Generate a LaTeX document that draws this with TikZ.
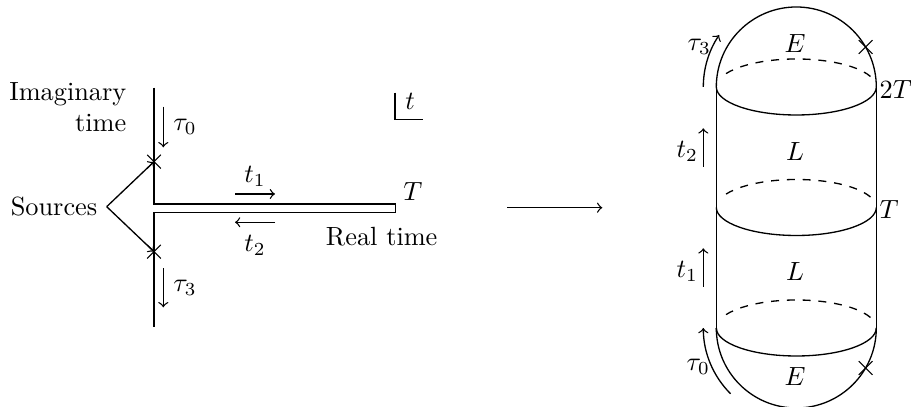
\documentclass[tikz,border=0pt]{standalone}
\usetikzlibrary{shapes.misc}
\begin{document}
\begin{tikzpicture}[x=0.38pt,y=0.38pt,line width=0.5pt,
  src/.style={draw,cross out,minimum size=4.8pt,inner sep=0pt,line width=0.4pt},
  ringback/.style={dashed}]
\useasboundingbox (0,0) rectangle (911,407);
% ---------- left contour ----------
\coordinate (itop) at (154,319.3);
\coordinate (tl) at (154,203);
\coordinate (tr) at (395.7,203);
\coordinate (br) at (395.7,194.7);
\coordinate (bl) at (154,194.7);
\coordinate (ibot) at (154,80.3);
\draw (itop) -- (tl) -- (tr) -- (br) -- (bl) -- (ibot);
\node[src] (x1) at (154,245.3) {};
\node[src] (x2) at (154,155.3) {};
\node[anchor=east] (sources) at (106.7,200.3) {Sources};
\draw[->] (sources.east) -- (x1.center);
\draw[->] (sources.east) -- (x2.center);
\node[anchor=north east,align=right,inner sep=0pt] (imag) at (127,325.3) {Imaginary\\time};
% tau arrows
\coordinate (a0s) at (163.3,300.3); \coordinate (a0e) at (163.3,259.7);
\draw[->] (a0s) -- (a0e);
\node (tau0) at (185,280.3) {$\tau_0$};
\coordinate (a3s) at (163.3,138.7); \coordinate (a3e) at (163.3,99.7);
\draw[->] (a3s) -- (a3e);
\node (tau3) at (185,119) {$\tau_3$};
% t arrows
\coordinate (b1s) at (235,213); \coordinate (b1e) at (275,213);
\draw[->] (b1s) -- (b1e);
\node (t1) at (255,230.3) {$t_1$};
\coordinate (b2s) at (275,184.7); \coordinate (b2e) at (235,184.7);
\draw[->] (b2s) -- (b2e);
\node (t2) at (255,162) {$t_2$};
\node (T) at (413,215.3) {$T$};
\node (real) at (381.7,170.3) {Real time};
% t marker
\coordinate (m1) at (395,314.3); \coordinate (m2) at (395,287.7); \coordinate (m3) at (422.7,287.7);
\draw (m1) -- (m2) -- (m3);
\node (tm) at (410,305.3) {$t$};
% ---------- middle arrow ----------
\coordinate (ms) at (507.3,199.3); \coordinate (me) at (602.3,199.3);
\draw[->] (ms) -- (me);
% ---------- right capsule ----------
\coordinate (c3) at (796.3,320);
\coordinate (c2) at (796.3,199.5);
\coordinate (c1) at (796.3,79);
\draw (716.3,320) -- (716.3,79);
\draw (876.3,320) -- (876.3,79);
\draw (876.3,320) arc[start angle=0,end angle=180,radius=80];
\draw (716.3,79) arc[start angle=180,end angle=360,radius=80];
\foreach \c in {c1,c2,c3}{
  \draw ([xshift=-80*0.38pt]\c) arc[start angle=180,end angle=360,x radius=80,y radius=28];
  \draw[ringback] ([shift={(22:80 and 28)}]\c) arc[start angle=22,end angle=158,x radius=80,y radius=28];
}
\node[src] (xt) at ([shift={(30:80)}]c3) {};
\node[src] (xb) at ([shift={(-30:80)}]c1) {};
\node (Et) at (795,363.7) {$E$};
\node (Eb) at (795,30.3) {$E$};
\node (L2) at (795,255.3) {$L$};
\node (L1) at (795,135.3) {$L$};
\node[anchor=west,inner sep=1pt] (twoT) at (876.3,317) {$2T$};
\node[anchor=west,inner sep=1pt] (TT) at (876.3,197) {$T$};
\coordinate (r2s) at (703.3,240.3); \coordinate (r2e) at (703.3,278.7);
\draw[->] (r2s) -- (r2e);
\node (rt2) at (687.3,255.3) {$t_2$};
\coordinate (r1s) at (703.3,120.3); \coordinate (r1e) at (703.3,158.7);
\draw[->] (r1s) -- (r1e);
\node (rt1) at (687.3,135.3) {$t_1$};
\coordinate (ar3) at ([shift={(180:93)}]c3);
\draw[->] (ar3) arc[start angle=180,end angle=146,radius=93];
\node (rtau3) at (699.3,360.3) {$\tau_3$};
\coordinate (ar0) at ([shift={(225:93)}]c1);
\draw[->] (ar0) arc[start angle=225,end angle=180,radius=93];
\node (rtau0) at (698.3,40.3) {$\tau_0$};
\end{tikzpicture}
\end{document}
